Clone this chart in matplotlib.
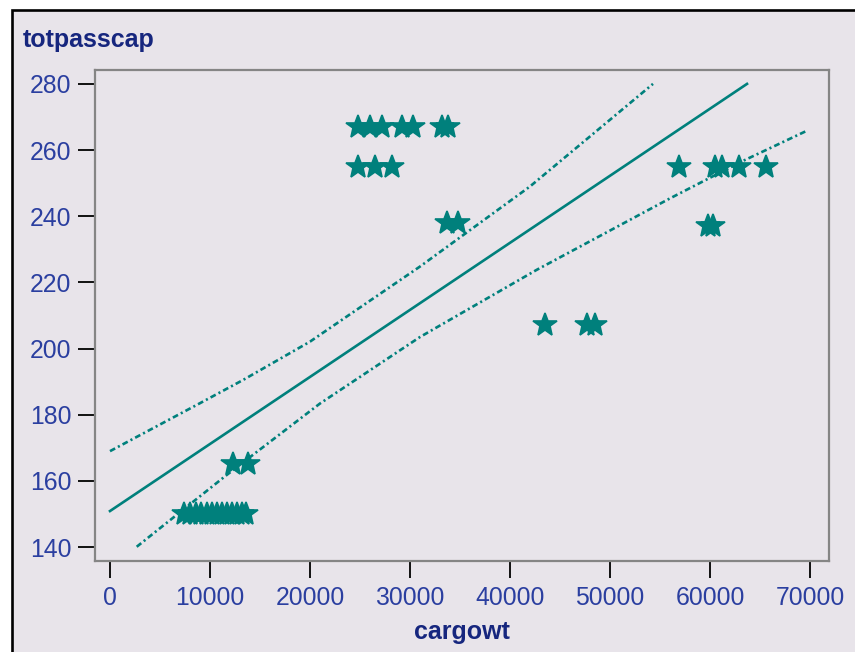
import matplotlib
matplotlib.use("Agg")
import matplotlib.pyplot as plt
from matplotlib.patches import Rectangle

# points (cargowt, totpasscap)
cargowt = [7400, 8000, 8600, 9100, 9700, 10200, 10700, 11200, 11700, 12200, 12700, 13200, 13600,
           12300, 13800,
           24800, 26000, 27200, 29200, 30300, 33200, 33800,
           24800, 26500, 28200,
           33700, 34800,
           43500, 47700, 48500,
           56900, 60500, 61200, 62900, 65600,
           59800, 60300]
totpasscap = [150] * 13 + [165] * 2 + [267] * 7 + [255] * 3 + [238] * 2 + [207] * 3 + [255] * 5 + [237] * 2

# regression line and confidence limits
fit_x = [0, 63700]
fit_y = [150.9, 280]
upper_x = [0, 9000, 13300, 20000, 31000, 42000, 54300]
upper_y = [169.0, 183.5, 190.5, 202.1, 224.8, 249.0, 280.0]
lower_x = [2670, 11670, 21000, 31000, 42670, 56000, 63000, 69800]
lower_y = [140.1, 161.8, 183.4, 203.5, 223.8, 245.4, 256.3, 266.0]

xticks = [0, 10000, 20000, 30000, 40000, 50000, 60000, 70000]
yticks = [140, 160, 180, 200, 220, 240, 260, 280]

teal = "#00807C"
bg = "#E8E4EA"
tick_blue = "#2B3FA0"
label_navy = "#16267E"

plt.rcParams["font.family"] = ["Liberation Sans", "DejaVu Sans"]

fig = plt.figure(figsize=(8.55, 6.52), dpi=100, facecolor="white")
# outer frame of the graph window
fig.patches.append(Rectangle((12.2 / 855, -0.05), 1.2, 1 - 10.3 / 652 + 0.05,
                             transform=fig.transFigure, facecolor=bg,
                             edgecolor="black", linewidth=1.9, zorder=0))

ax = fig.add_axes([95 / 855, 1 - 561 / 652, (829 - 95) / 855, (561 - 70) / 652])
ax.set_zorder(2)
ax.set_facecolor(bg)

dashdot = (0, (2.2, 1.2, 0.8, 1.2))
ax.plot(fit_x, fit_y, color=teal, linewidth=1.9, zorder=2)
ax.plot(upper_x, upper_y, color=teal, linewidth=1.9, linestyle=dashdot, zorder=2)
ax.plot(lower_x, lower_y, color=teal, linewidth=1.9, linestyle=dashdot, zorder=2)
ax.plot(cargowt, totpasscap, linestyle="none", marker="*", markersize=18,
        color=teal, markeredgecolor=teal, markeredgewidth=1.2, zorder=3)

ax.set_xlim(-1500, 71900)
ax.set_ylim(135.8, 284.2)
ax.set_xticks(xticks)
ax.set_yticks(yticks)
ax.tick_params(axis="both", direction="out", length=12, width=1.3, color="black",
               labelsize=17.8, labelcolor=tick_blue)
ax.tick_params(axis="x", pad=6)
ax.tick_params(axis="y", pad=5)

for s in ax.spines.values():
    s.set_color("#858585")
    s.set_linewidth(1.6)

fig.text(23 / 855, 1 - 40 / 652, "totpasscap", fontsize=18, fontweight="bold",
         color=label_navy, ha="left", va="center")
fig.text(462 / 855, 1 - 632 / 652, "cargowt", fontsize=18, fontweight="bold",
         color=label_navy, ha="center", va="center")

fig.savefig("out.png", dpi=100, facecolor=fig.get_facecolor())
